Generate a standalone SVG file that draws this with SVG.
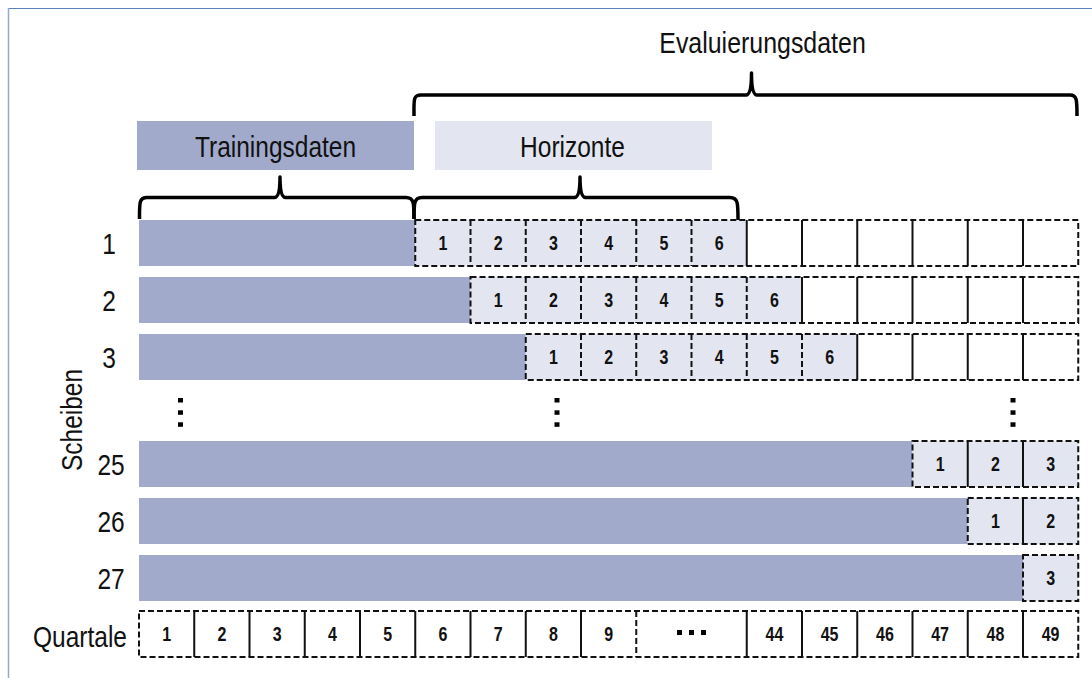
<svg xmlns="http://www.w3.org/2000/svg" width="1092" height="678" viewBox="0 0 1092 678">
<style>
.lbl{font-family:"Liberation Sans",Arial,sans-serif;font-size:29px;fill:#111;text-anchor:middle}
.num{font-family:"Liberation Sans",Arial,sans-serif;font-size:20px;font-weight:bold;fill:#111;text-anchor:middle}
.bar{fill:#a2aacb}
.hz{fill:#e3e6f0}
.out{fill:none;stroke:#111;stroke-width:2;stroke-dasharray:6 3}
.dl{stroke:#111;stroke-width:2;stroke-dasharray:6 3}
.sl{stroke:#111;stroke-width:2}
.brace{fill:none;stroke:#000;stroke-width:3.5;stroke-linejoin:round;stroke-linecap:butt}
.dot{fill:#000}
</style>
<rect width="1092" height="678" fill="#fff"/>
<line x1="8.5" y1="8.5" x2="1092" y2="8.5" stroke="#5a80bd" stroke-width="1.2"/>
<line x1="8.5" y1="8" x2="8.5" y2="678" stroke="#93a9cf" stroke-width="1.5"/>

<g id="title-eval">
<text class="lbl" transform="translate(762.5 53.3) scale(0.86 1)">Evaluierungsdaten</text>
</g>
<g id="legend-training">
<rect class="bar" x="137" y="121" width="277" height="49"/>
<text class="lbl" transform="translate(275.5 156.5) scale(0.845 1)">Trainingsdaten</text>
</g>
<g id="legend-horizonte">
<rect class="hz" x="435" y="121" width="277" height="49"/>
<text class="lbl" transform="translate(572.5 156.5) scale(0.845 1)">Horizonte</text>
</g>

<g id="braces">
<path class="brace" d="M414,116 C414,100 413,95 421,95 L746,95 Q751.5,95 751.5,73 Q751.5,95 757,95 L1070,95 C1077,95 1077,100 1077,116"/>
<path class="brace" d="M139.5,219 C139.5,203 139,197.5 147,197.5 L274.5,197.5 Q280,197.5 280,177 Q280,197.5 285.5,197.5 L406,197.5 C414,197.5 414,203 414,219"/>
<path class="brace" d="M414,219 C414,203 414,197.5 422,197.5 L574.5,197.5 Q580,197.5 580,177 Q580,197.5 585.5,197.5 L730,197.5 C738,197.5 738,203 738,220"/>
</g>

<g id="labels-left">
<text class="lbl" transform="translate(81.5 420) rotate(-90) scale(0.845 1)">Scheiben</text>
<text class="lbl" transform="translate(109 254) scale(0.845 1)">1</text>
<text class="lbl" transform="translate(109 311) scale(0.845 1)">2</text>
<text class="lbl" transform="translate(109 368) scale(0.845 1)">3</text>
<text class="lbl" transform="translate(111 475) scale(0.845 1)">25</text>
<text class="lbl" transform="translate(111 532) scale(0.845 1)">26</text>
<text class="lbl" transform="translate(111 589) scale(0.845 1)">27</text>
<text class="lbl" transform="translate(80 646.5) scale(0.845 1)">Quartale</text>
</g>

<g id="row-1">
<rect class="bar" x="139" y="220" width="276.25" height="46"/>
<rect class="hz" x="415.25" y="220" width="331.5" height="46"/>
<rect class="out" x="415.25" y="220" width="663" height="46"/>
<path class="dl" d="M470.5,220V266M525.75,220V266M581,220V266M636.25,220V266M691.5,220V266"/>
<path class="sl" d="M746.75,220V266M802,220V266M857.25,220V266M912.5,220V266M967.75,220V266M1023,220V266"/>
<text class="num" transform="translate(442.9 250.2) scale(0.8 1)">1</text>
<text class="num" transform="translate(498.1 250.2) scale(0.8 1)">2</text>
<text class="num" transform="translate(553.4 250.2) scale(0.8 1)">3</text>
<text class="num" transform="translate(608.6 250.2) scale(0.8 1)">4</text>
<text class="num" transform="translate(663.9 250.2) scale(0.8 1)">5</text>
<text class="num" transform="translate(719.1 250.2) scale(0.8 1)">6</text>
</g>

<g id="row-2">
<rect class="bar" x="139" y="277" width="331.5" height="46"/>
<rect class="hz" x="470.5" y="277" width="331.5" height="46"/>
<rect class="out" x="470.5" y="277" width="607.75" height="46"/>
<path class="dl" d="M525.75,277V323M581,277V323M636.25,277V323M691.5,277V323M746.75,277V323"/>
<path class="sl" d="M802,277V323M857.25,277V323M912.5,277V323M967.75,277V323M1023,277V323"/>
<text class="num" transform="translate(498.1 307.2) scale(0.8 1)">1</text>
<text class="num" transform="translate(553.4 307.2) scale(0.8 1)">2</text>
<text class="num" transform="translate(608.6 307.2) scale(0.8 1)">3</text>
<text class="num" transform="translate(663.9 307.2) scale(0.8 1)">4</text>
<text class="num" transform="translate(719.1 307.2) scale(0.8 1)">5</text>
<text class="num" transform="translate(774.4 307.2) scale(0.8 1)">6</text>
</g>

<g id="row-3">
<rect class="bar" x="139" y="334" width="386.75" height="46"/>
<rect class="hz" x="525.75" y="334" width="331.5" height="46"/>
<rect class="out" x="525.75" y="334" width="552.5" height="46"/>
<path class="dl" d="M581,334V380M636.25,334V380M691.5,334V380M746.75,334V380M802,334V380"/>
<path class="sl" d="M857.25,334V380M912.5,334V380M967.75,334V380M1023,334V380"/>
<text class="num" transform="translate(553.4 364.2) scale(0.8 1)">1</text>
<text class="num" transform="translate(608.6 364.2) scale(0.8 1)">2</text>
<text class="num" transform="translate(663.9 364.2) scale(0.8 1)">3</text>
<text class="num" transform="translate(719.1 364.2) scale(0.8 1)">4</text>
<text class="num" transform="translate(774.4 364.2) scale(0.8 1)">5</text>
<text class="num" transform="translate(829.6 364.2) scale(0.8 1)">6</text>
</g>

<g id="ellipsis">
<rect class="dot" x="178" y="398" width="5" height="4.5"/>
<rect class="dot" x="178" y="410.3" width="5" height="4.5"/>
<rect class="dot" x="178" y="422.3" width="5" height="4.5"/>
<rect class="dot" x="554.5" y="398" width="5" height="4.5"/>
<rect class="dot" x="554.5" y="410.3" width="5" height="4.5"/>
<rect class="dot" x="554.5" y="422.3" width="5" height="4.5"/>
<rect class="dot" x="1010.5" y="398" width="5" height="4.5"/>
<rect class="dot" x="1010.5" y="410.3" width="5" height="4.5"/>
<rect class="dot" x="1010.5" y="422.3" width="5" height="4.5"/>
</g>

<g id="row-25">
<rect class="bar" x="139" y="441" width="773.5" height="46"/>
<rect class="hz" x="912.5" y="441" width="165.75" height="46"/>
<rect class="out" x="912.5" y="441" width="165.75" height="46"/>
<path class="sl" d="M967.75,441V487M1023,441V487"/>
<text class="num" transform="translate(940.1 471.2) scale(0.8 1)">1</text>
<text class="num" transform="translate(995.4 471.2) scale(0.8 1)">2</text>
<text class="num" transform="translate(1050.6 471.2) scale(0.8 1)">3</text>
</g>

<g id="row-26">
<rect class="bar" x="139" y="498" width="828.75" height="46"/>
<rect class="hz" x="967.75" y="498" width="110.5" height="46"/>
<rect class="out" x="967.75" y="498" width="110.5" height="46"/>
<path class="sl" d="M1023,498V544"/>
<text class="num" transform="translate(995.4 528.2) scale(0.8 1)">1</text>
<text class="num" transform="translate(1050.6 528.2) scale(0.8 1)">2</text>
</g>

<g id="row-27">
<rect class="bar" x="139" y="555" width="884" height="46"/>
<rect class="hz" x="1023" y="555" width="55.25" height="46"/>
<rect class="out" x="1023" y="555" width="55.25" height="46"/>
<text class="num" transform="translate(1050.6 585.2) scale(0.8 1)">3</text>
</g>

<g id="quartale">
<rect class="out" x="139" y="611" width="939.25" height="46"/>
<path class="sl" d="M194.25,611V657M249.5,611V657M304.75,611V657M360,611V657M415.25,611V657M470.5,611V657M525.75,611V657M581,611V657M746.75,611V657M802,611V657M857.25,611V657M912.5,611V657M967.75,611V657M1023,611V657"/>
<path class="dl" d="M636.25,611V657"/>
<text class="num" transform="translate(166.6 641.2) scale(0.8 1)">1</text>
<text class="num" transform="translate(221.9 641.2) scale(0.8 1)">2</text>
<text class="num" transform="translate(277.1 641.2) scale(0.8 1)">3</text>
<text class="num" transform="translate(332.4 641.2) scale(0.8 1)">4</text>
<text class="num" transform="translate(387.6 641.2) scale(0.8 1)">5</text>
<text class="num" transform="translate(442.9 641.2) scale(0.8 1)">6</text>
<text class="num" transform="translate(498.1 641.2) scale(0.8 1)">7</text>
<text class="num" transform="translate(553.4 641.2) scale(0.8 1)">8</text>
<text class="num" transform="translate(608.6 641.2) scale(0.8 1)">9</text>
<rect class="dot" x="677" y="630" width="5" height="5"/>
<rect class="dot" x="689" y="630" width="5" height="5"/>
<rect class="dot" x="701" y="630" width="5" height="5"/>
<text class="num" transform="translate(774.4 641.2) scale(0.8 1)">44</text>
<text class="num" transform="translate(829.6 641.2) scale(0.8 1)">45</text>
<text class="num" transform="translate(884.9 641.2) scale(0.8 1)">46</text>
<text class="num" transform="translate(940.1 641.2) scale(0.8 1)">47</text>
<text class="num" transform="translate(995.4 641.2) scale(0.8 1)">48</text>
<text class="num" transform="translate(1050.6 641.2) scale(0.8 1)">49</text>
</g>
</svg>
